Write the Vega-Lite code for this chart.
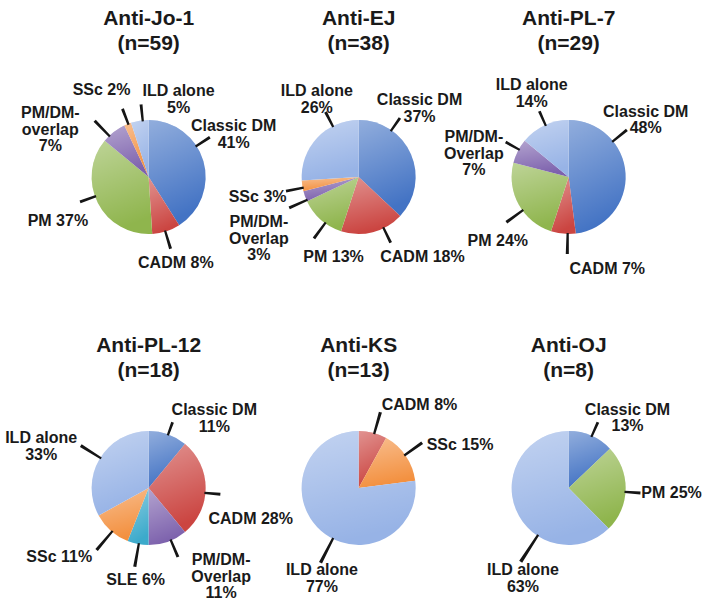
{
  "$schema": "https://vega.github.io/schema/vega-lite/v6.json",
  "autosize": {"type": "pad"},
  "padding": {"left": 5, "top": 7, "right": 0, "bottom": 0},
  "background": "white",
  "params": [
    {"name": "lab", "value": {
      "Anti-Jo-1|Classic DM": [-11.5, 96, -16.8, 73],
      "Anti-Jo-1|CADM": [0, 88, 1, 75],
      "Anti-Jo-1|PM": [2.2, 100, 7, 73],
      "Anti-Jo-1|PM/DM-overlap": [-25.6, 110, -6, 78],
      "Anti-Jo-1|SSc": [-6.2, 101, 0.6, 73],
      "Anti-Jo-1|ILD alone": [29.6, 85, 3, 73],
      "Anti-EJ|Classic DM": [-25.7, 93, -31.6, 72],
      "Anti-EJ|CADM": [-24.8, 101, -11.6, 73],
      "Anti-EJ|PM": [-23.6, 82, -5.4, 76],
      "Anti-EJ|PM/DM-Overlap": [-11.2, 116.4, -4.2, 76],
      "Anti-EJ|SSc": [-1.3, 102.7, -2, 74],
      "Anti-EJ|ILD alone": [19.1, 90, 19.8, 73],
      "Anti-PL-7|Classic DM": [-33.8, 97, -35.4, 75],
      "Anti-PL-7|CADM": [-28.6, 98, -4.4, 77],
      "Anti-PL-7|PM": [-12.3, 94, -7.2, 77],
      "Anti-PL-7|PM/DM-Overlap": [-12.2, 98, 2, 72],
      "Anti-PL-7|ILD alone": [1.8, 93, 1.2, 72],
      "Anti-PL-12|Classic DM": [22.8, 97, 0.2, 70],
      "Anti-PL-12|CADM": [15.6, 106, 5, 72],
      "Anti-PL-12|PM/DM-Overlap": [-20.1, 113, -3.2, 75],
      "Anti-PL-12|SLE": [-2.6, 91, -0.8, 80],
      "Anti-PL-12|SSc": [11.6, 112, -1.4, 81],
      "Anti-PL-12|ILD alone": [-8.5, 116, 1.4, 80],
      "Anti-KS|CADM": [21.2, 104.5, 1.6, 79],
      "Anti-KS|SSc": [10.2, 111, -1.3, 78],
      "Anti-KS|ILD alone": [-18.9, 96, -14.4, 84],
      "Anti-OJ|Classic DM": [16.1, 93, 0.8, 72],
      "Anti-OJ|PM": [1, 103, 3.1, 72],
      "Anti-OJ|ILD alone": [-40.4, 99.5, -34.7, 88]
    }}
  ],
  "data": {"values": [
    {"panel": "Anti-Jo-1", "cat": "Classic DM", "pct": 41, "k": 1},
    {"panel": "Anti-Jo-1", "cat": "CADM", "pct": 8, "k": 2},
    {"panel": "Anti-Jo-1", "cat": "PM", "pct": 37, "k": 3},
    {"panel": "Anti-Jo-1", "cat": "PM/DM-overlap", "pct": 7, "k": 4},
    {"panel": "Anti-Jo-1", "cat": "SSc", "pct": 2, "k": 6},
    {"panel": "Anti-Jo-1", "cat": "ILD alone", "pct": 5, "k": 7},
    {"panel": "Anti-EJ", "cat": "Classic DM", "pct": 37, "k": 1},
    {"panel": "Anti-EJ", "cat": "CADM", "pct": 18, "k": 2},
    {"panel": "Anti-EJ", "cat": "PM", "pct": 13, "k": 3},
    {"panel": "Anti-EJ", "cat": "PM/DM-Overlap", "pct": 3, "k": 4},
    {"panel": "Anti-EJ", "cat": "SSc", "pct": 3, "k": 6},
    {"panel": "Anti-EJ", "cat": "ILD alone", "pct": 26, "k": 7},
    {"panel": "Anti-PL-7", "cat": "Classic DM", "pct": 48, "k": 1},
    {"panel": "Anti-PL-7", "cat": "CADM", "pct": 7, "k": 2},
    {"panel": "Anti-PL-7", "cat": "PM", "pct": 24, "k": 3},
    {"panel": "Anti-PL-7", "cat": "PM/DM-Overlap", "pct": 7, "k": 4},
    {"panel": "Anti-PL-7", "cat": "ILD alone", "pct": 14, "k": 7},
    {"panel": "Anti-PL-12", "cat": "Classic DM", "pct": 11, "k": 1},
    {"panel": "Anti-PL-12", "cat": "CADM", "pct": 28, "k": 2},
    {"panel": "Anti-PL-12", "cat": "PM/DM-Overlap", "pct": 11, "k": 4},
    {"panel": "Anti-PL-12", "cat": "SLE", "pct": 6, "k": 5},
    {"panel": "Anti-PL-12", "cat": "SSc", "pct": 11, "k": 6},
    {"panel": "Anti-PL-12", "cat": "ILD alone", "pct": 33, "k": 7},
    {"panel": "Anti-KS", "cat": "CADM", "pct": 8, "k": 2},
    {"panel": "Anti-KS", "cat": "SSc", "pct": 15, "k": 6},
    {"panel": "Anti-KS", "cat": "ILD alone", "pct": 77, "k": 7},
    {"panel": "Anti-OJ", "cat": "Classic DM", "pct": 13, "k": 1},
    {"panel": "Anti-OJ", "cat": "PM", "pct": 25, "k": 3},
    {"panel": "Anti-OJ", "cat": "ILD alone", "pct": 63, "k": 7}
  ]},
  "spacing": 39,
  "vconcat": [
    {"spacing": 0, "bounds": "flush", "hconcat": [
      {"width": 209.3, "height": 236, "title": {"text": ["Anti-Jo-1", "(n=59)"]},
       "transform": [{"filter": "datum.panel === 'Anti-Jo-1'"}, {"joinaggregate": [{"op": "sum", "field": "pct", "as": "tot"}]}, {"stack": "pct", "groupby": [], "sort": [{"field": "k"}], "as": ["s0", "s1"]}],
       "layer": [
        {"mark": {"type": "arc", "radius": 57}, "encoding": {"theta": {"field": "pct", "type": "quantitative", "stack": "normalize"}, "order": {"field": "k", "type": "quantitative"}, "color": {"field": "cat", "type": "nominal", "legend": null, "scale": {"domain": ["Classic DM", "CADM", "PM", "PM/DM-overlap", "PM/DM-Overlap", "SLE", "SSc", "ILD alone"], "range": ["#4373c4", "#cb4541", "#8fb54d", "#7d62ad", "#7d62ad", "#3caacb", "#f3903f", "#97b3e6"]}}}},
        {"mark": {"type": "arc", "radius": 57, "fill": {"gradient": "linear", "x1": 0, "y1": 0, "x2": 0.25, "y2": 1, "stops": [{"offset": 0, "color": "rgba(255,255,255,0.42)"}, {"offset": 1, "color": "rgba(255,255,255,0)"}]}}, "encoding": {"theta": {"field": "pct", "type": "quantitative", "stack": "normalize"}, "order": {"field": "k", "type": "quantitative"}}},
        {"mark": {"type": "arc", "color": "#151515", "radius2": 56, "radius": {"expr": "lab[datum.panel+'|'+datum.cat][3]"}, "theta": {"expr": "PI*(datum.s0+datum.s1)/datum.tot + lab[datum.panel+'|'+datum.cat][2]*PI/180 - 0.02"}, "theta2": {"expr": "PI*(datum.s0+datum.s1)/datum.tot + lab[datum.panel+'|'+datum.cat][2]*PI/180 + 0.02"}}},
        {"mark": {"type": "text", "font": "Liberation Sans", "fontSize": 16, "fontWeight": "bold", "lineHeight": 16.5, "align": "center", "baseline": "middle", "color": "#1a1a1a", "dy": {"expr": "(datum.cat === 'Classic DM' || datum.cat === 'ILD alone') ? -6.25 : (indexof(datum.cat, 'PM/DM') === 0 ? -14.5 : 2)"}, "radius": {"expr": "lab[datum.panel+'|'+datum.cat][1]"}, "theta": {"expr": "PI*(datum.s0+datum.s1)/datum.tot + lab[datum.panel+'|'+datum.cat][0]*PI/180"}, "text": {"expr": "(datum.cat === 'Classic DM' || datum.cat === 'ILD alone') ? [datum.cat, datum.pct + '%'] : (indexof(datum.cat, 'PM/DM') === 0 ? ['PM/DM-', substring(datum.cat, 6), datum.pct + '%'] : datum.cat + ' ' + datum.pct + '%')"}}}
       ]},
      {"width": 209.3, "height": 236, "title": {"text": ["Anti-EJ", "(n=38)"]},
       "transform": [{"filter": "datum.panel === 'Anti-EJ'"}, {"joinaggregate": [{"op": "sum", "field": "pct", "as": "tot"}]}, {"stack": "pct", "groupby": [], "sort": [{"field": "k"}], "as": ["s0", "s1"]}],
       "layer": [
        {"mark": {"type": "arc", "radius": 57}, "encoding": {"theta": {"field": "pct", "type": "quantitative", "stack": "normalize"}, "order": {"field": "k", "type": "quantitative"}, "color": {"field": "cat", "type": "nominal", "legend": null, "scale": {"domain": ["Classic DM", "CADM", "PM", "PM/DM-overlap", "PM/DM-Overlap", "SLE", "SSc", "ILD alone"], "range": ["#4373c4", "#cb4541", "#8fb54d", "#7d62ad", "#7d62ad", "#3caacb", "#f3903f", "#97b3e6"]}}}},
        {"mark": {"type": "arc", "radius": 57, "fill": {"gradient": "linear", "x1": 0, "y1": 0, "x2": 0.25, "y2": 1, "stops": [{"offset": 0, "color": "rgba(255,255,255,0.42)"}, {"offset": 1, "color": "rgba(255,255,255,0)"}]}}, "encoding": {"theta": {"field": "pct", "type": "quantitative", "stack": "normalize"}, "order": {"field": "k", "type": "quantitative"}}},
        {"mark": {"type": "arc", "color": "#151515", "radius2": 56, "radius": {"expr": "lab[datum.panel+'|'+datum.cat][3]"}, "theta": {"expr": "PI*(datum.s0+datum.s1)/datum.tot + lab[datum.panel+'|'+datum.cat][2]*PI/180 - 0.02"}, "theta2": {"expr": "PI*(datum.s0+datum.s1)/datum.tot + lab[datum.panel+'|'+datum.cat][2]*PI/180 + 0.02"}}},
        {"mark": {"type": "text", "font": "Liberation Sans", "fontSize": 16, "fontWeight": "bold", "lineHeight": 16.5, "align": "center", "baseline": "middle", "color": "#1a1a1a", "dy": {"expr": "(datum.cat === 'Classic DM' || datum.cat === 'ILD alone') ? -6.25 : (indexof(datum.cat, 'PM/DM') === 0 ? -14.5 : 2)"}, "radius": {"expr": "lab[datum.panel+'|'+datum.cat][1]"}, "theta": {"expr": "PI*(datum.s0+datum.s1)/datum.tot + lab[datum.panel+'|'+datum.cat][0]*PI/180"}, "text": {"expr": "(datum.cat === 'Classic DM' || datum.cat === 'ILD alone') ? [datum.cat, datum.pct + '%'] : (indexof(datum.cat, 'PM/DM') === 0 ? ['PM/DM-', substring(datum.cat, 6), datum.pct + '%'] : datum.cat + ' ' + datum.pct + '%')"}}}
       ]},
      {"width": 209.3, "height": 236, "title": {"text": ["Anti-PL-7", "(n=29)"]},
       "transform": [{"filter": "datum.panel === 'Anti-PL-7'"}, {"joinaggregate": [{"op": "sum", "field": "pct", "as": "tot"}]}, {"stack": "pct", "groupby": [], "sort": [{"field": "k"}], "as": ["s0", "s1"]}],
       "layer": [
        {"mark": {"type": "arc", "radius": 57}, "encoding": {"theta": {"field": "pct", "type": "quantitative", "stack": "normalize"}, "order": {"field": "k", "type": "quantitative"}, "color": {"field": "cat", "type": "nominal", "legend": null, "scale": {"domain": ["Classic DM", "CADM", "PM", "PM/DM-overlap", "PM/DM-Overlap", "SLE", "SSc", "ILD alone"], "range": ["#4373c4", "#cb4541", "#8fb54d", "#7d62ad", "#7d62ad", "#3caacb", "#f3903f", "#97b3e6"]}}}},
        {"mark": {"type": "arc", "radius": 57, "fill": {"gradient": "linear", "x1": 0, "y1": 0, "x2": 0.25, "y2": 1, "stops": [{"offset": 0, "color": "rgba(255,255,255,0.42)"}, {"offset": 1, "color": "rgba(255,255,255,0)"}]}}, "encoding": {"theta": {"field": "pct", "type": "quantitative", "stack": "normalize"}, "order": {"field": "k", "type": "quantitative"}}},
        {"mark": {"type": "arc", "color": "#151515", "radius2": 56, "radius": {"expr": "lab[datum.panel+'|'+datum.cat][3]"}, "theta": {"expr": "PI*(datum.s0+datum.s1)/datum.tot + lab[datum.panel+'|'+datum.cat][2]*PI/180 - 0.02"}, "theta2": {"expr": "PI*(datum.s0+datum.s1)/datum.tot + lab[datum.panel+'|'+datum.cat][2]*PI/180 + 0.02"}}},
        {"mark": {"type": "text", "font": "Liberation Sans", "fontSize": 16, "fontWeight": "bold", "lineHeight": 16.5, "align": "center", "baseline": "middle", "color": "#1a1a1a", "dy": {"expr": "(datum.cat === 'Classic DM' || datum.cat === 'ILD alone') ? -6.25 : (indexof(datum.cat, 'PM/DM') === 0 ? -14.5 : 2)"}, "radius": {"expr": "lab[datum.panel+'|'+datum.cat][1]"}, "theta": {"expr": "PI*(datum.s0+datum.s1)/datum.tot + lab[datum.panel+'|'+datum.cat][0]*PI/180"}, "text": {"expr": "(datum.cat === 'Classic DM' || datum.cat === 'ILD alone') ? [datum.cat, datum.pct + '%'] : (indexof(datum.cat, 'PM/DM') === 0 ? ['PM/DM-', substring(datum.cat, 6), datum.pct + '%'] : datum.cat + ' ' + datum.pct + '%')"}}}
       ]}
    ]},
    {"spacing": 0, "bounds": "flush", "hconcat": [
      {"width": 209.3, "height": 204, "title": {"text": ["Anti-PL-12", "(n=18)"]},
       "transform": [{"filter": "datum.panel === 'Anti-PL-12'"}, {"joinaggregate": [{"op": "sum", "field": "pct", "as": "tot"}]}, {"stack": "pct", "groupby": [], "sort": [{"field": "k"}], "as": ["s0", "s1"]}],
       "layer": [
        {"mark": {"type": "arc", "radius": 57}, "encoding": {"theta": {"field": "pct", "type": "quantitative", "stack": "normalize"}, "order": {"field": "k", "type": "quantitative"}, "color": {"field": "cat", "type": "nominal", "legend": null, "scale": {"domain": ["Classic DM", "CADM", "PM", "PM/DM-overlap", "PM/DM-Overlap", "SLE", "SSc", "ILD alone"], "range": ["#4373c4", "#cb4541", "#8fb54d", "#7d62ad", "#7d62ad", "#3caacb", "#f3903f", "#97b3e6"]}}}},
        {"mark": {"type": "arc", "radius": 57, "fill": {"gradient": "linear", "x1": 0, "y1": 0, "x2": 0.25, "y2": 1, "stops": [{"offset": 0, "color": "rgba(255,255,255,0.42)"}, {"offset": 1, "color": "rgba(255,255,255,0)"}]}}, "encoding": {"theta": {"field": "pct", "type": "quantitative", "stack": "normalize"}, "order": {"field": "k", "type": "quantitative"}}},
        {"mark": {"type": "arc", "color": "#151515", "radius2": 56, "radius": {"expr": "lab[datum.panel+'|'+datum.cat][3]"}, "theta": {"expr": "PI*(datum.s0+datum.s1)/datum.tot + lab[datum.panel+'|'+datum.cat][2]*PI/180 - 0.02"}, "theta2": {"expr": "PI*(datum.s0+datum.s1)/datum.tot + lab[datum.panel+'|'+datum.cat][2]*PI/180 + 0.02"}}},
        {"mark": {"type": "text", "font": "Liberation Sans", "fontSize": 16, "fontWeight": "bold", "lineHeight": 16.5, "align": "center", "baseline": "middle", "color": "#1a1a1a", "dy": {"expr": "(datum.cat === 'Classic DM' || datum.cat === 'ILD alone') ? -6.25 : (indexof(datum.cat, 'PM/DM') === 0 ? -14.5 : 2)"}, "radius": {"expr": "lab[datum.panel+'|'+datum.cat][1]"}, "theta": {"expr": "PI*(datum.s0+datum.s1)/datum.tot + lab[datum.panel+'|'+datum.cat][0]*PI/180"}, "text": {"expr": "(datum.cat === 'Classic DM' || datum.cat === 'ILD alone') ? [datum.cat, datum.pct + '%'] : (indexof(datum.cat, 'PM/DM') === 0 ? ['PM/DM-', substring(datum.cat, 6), datum.pct + '%'] : datum.cat + ' ' + datum.pct + '%')"}}}
       ]},
      {"width": 209.3, "height": 204, "title": {"text": ["Anti-KS", "(n=13)"]},
       "transform": [{"filter": "datum.panel === 'Anti-KS'"}, {"joinaggregate": [{"op": "sum", "field": "pct", "as": "tot"}]}, {"stack": "pct", "groupby": [], "sort": [{"field": "k"}], "as": ["s0", "s1"]}],
       "layer": [
        {"mark": {"type": "arc", "radius": 57}, "encoding": {"theta": {"field": "pct", "type": "quantitative", "stack": "normalize"}, "order": {"field": "k", "type": "quantitative"}, "color": {"field": "cat", "type": "nominal", "legend": null, "scale": {"domain": ["Classic DM", "CADM", "PM", "PM/DM-overlap", "PM/DM-Overlap", "SLE", "SSc", "ILD alone"], "range": ["#4373c4", "#cb4541", "#8fb54d", "#7d62ad", "#7d62ad", "#3caacb", "#f3903f", "#97b3e6"]}}}},
        {"mark": {"type": "arc", "radius": 57, "fill": {"gradient": "linear", "x1": 0, "y1": 0, "x2": 0.25, "y2": 1, "stops": [{"offset": 0, "color": "rgba(255,255,255,0.42)"}, {"offset": 1, "color": "rgba(255,255,255,0)"}]}}, "encoding": {"theta": {"field": "pct", "type": "quantitative", "stack": "normalize"}, "order": {"field": "k", "type": "quantitative"}}},
        {"mark": {"type": "arc", "color": "#151515", "radius2": 56, "radius": {"expr": "lab[datum.panel+'|'+datum.cat][3]"}, "theta": {"expr": "PI*(datum.s0+datum.s1)/datum.tot + lab[datum.panel+'|'+datum.cat][2]*PI/180 - 0.02"}, "theta2": {"expr": "PI*(datum.s0+datum.s1)/datum.tot + lab[datum.panel+'|'+datum.cat][2]*PI/180 + 0.02"}}},
        {"mark": {"type": "text", "font": "Liberation Sans", "fontSize": 16, "fontWeight": "bold", "lineHeight": 16.5, "align": "center", "baseline": "middle", "color": "#1a1a1a", "dy": {"expr": "(datum.cat === 'Classic DM' || datum.cat === 'ILD alone') ? -6.25 : (indexof(datum.cat, 'PM/DM') === 0 ? -14.5 : 2)"}, "radius": {"expr": "lab[datum.panel+'|'+datum.cat][1]"}, "theta": {"expr": "PI*(datum.s0+datum.s1)/datum.tot + lab[datum.panel+'|'+datum.cat][0]*PI/180"}, "text": {"expr": "(datum.cat === 'Classic DM' || datum.cat === 'ILD alone') ? [datum.cat, datum.pct + '%'] : (indexof(datum.cat, 'PM/DM') === 0 ? ['PM/DM-', substring(datum.cat, 6), datum.pct + '%'] : datum.cat + ' ' + datum.pct + '%')"}}}
       ]},
      {"width": 209.3, "height": 204, "title": {"text": ["Anti-OJ", "(n=8)"]},
       "transform": [{"filter": "datum.panel === 'Anti-OJ'"}, {"joinaggregate": [{"op": "sum", "field": "pct", "as": "tot"}]}, {"stack": "pct", "groupby": [], "sort": [{"field": "k"}], "as": ["s0", "s1"]}],
       "layer": [
        {"mark": {"type": "arc", "radius": 57}, "encoding": {"theta": {"field": "pct", "type": "quantitative", "stack": "normalize"}, "order": {"field": "k", "type": "quantitative"}, "color": {"field": "cat", "type": "nominal", "legend": null, "scale": {"domain": ["Classic DM", "CADM", "PM", "PM/DM-overlap", "PM/DM-Overlap", "SLE", "SSc", "ILD alone"], "range": ["#4373c4", "#cb4541", "#8fb54d", "#7d62ad", "#7d62ad", "#3caacb", "#f3903f", "#97b3e6"]}}}},
        {"mark": {"type": "arc", "radius": 57, "fill": {"gradient": "linear", "x1": 0, "y1": 0, "x2": 0.25, "y2": 1, "stops": [{"offset": 0, "color": "rgba(255,255,255,0.42)"}, {"offset": 1, "color": "rgba(255,255,255,0)"}]}}, "encoding": {"theta": {"field": "pct", "type": "quantitative", "stack": "normalize"}, "order": {"field": "k", "type": "quantitative"}}},
        {"mark": {"type": "arc", "color": "#151515", "radius2": 56, "radius": {"expr": "lab[datum.panel+'|'+datum.cat][3]"}, "theta": {"expr": "PI*(datum.s0+datum.s1)/datum.tot + lab[datum.panel+'|'+datum.cat][2]*PI/180 - 0.02"}, "theta2": {"expr": "PI*(datum.s0+datum.s1)/datum.tot + lab[datum.panel+'|'+datum.cat][2]*PI/180 + 0.02"}}},
        {"mark": {"type": "text", "font": "Liberation Sans", "fontSize": 16, "fontWeight": "bold", "lineHeight": 16.5, "align": "center", "baseline": "middle", "color": "#1a1a1a", "dy": {"expr": "(datum.cat === 'Classic DM' || datum.cat === 'ILD alone') ? -6.25 : (indexof(datum.cat, 'PM/DM') === 0 ? -14.5 : 2)"}, "radius": {"expr": "lab[datum.panel+'|'+datum.cat][1]"}, "theta": {"expr": "PI*(datum.s0+datum.s1)/datum.tot + lab[datum.panel+'|'+datum.cat][0]*PI/180"}, "text": {"expr": "(datum.cat === 'Classic DM' || datum.cat === 'ILD alone') ? [datum.cat, datum.pct + '%'] : (indexof(datum.cat, 'PM/DM') === 0 ? ['PM/DM-', substring(datum.cat, 6), datum.pct + '%'] : datum.cat + ' ' + datum.pct + '%')"}}}
       ]}
    ]}
  ],
  "config": {
    "view": {"stroke": null},
    "title": {"font": "Liberation Sans", "fontSize": 21, "fontWeight": "bold", "lineHeight": 25.5, "offset": 5, "frame": "group", "anchor": "middle", "color": "#1a1a1a"}
  }
}
